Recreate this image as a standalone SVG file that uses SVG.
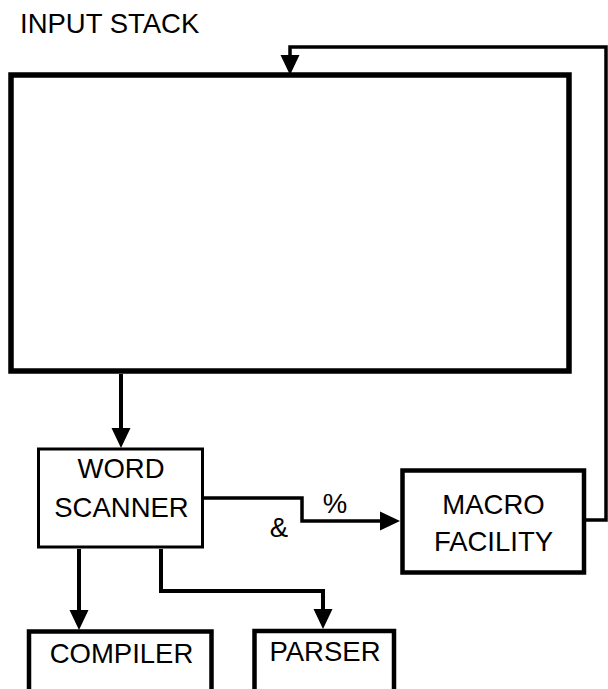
<svg xmlns="http://www.w3.org/2000/svg" width="608" height="689" viewBox="0 0 608 689">
  <style>
    text { font-family: "Liberation Sans", Arial, sans-serif; font-size: 27.5px; fill: #000; }
    .mid { text-anchor: middle; }
    .box { fill: #fff; stroke: #000; }
    .conn { fill: none; stroke: #000; stroke-linejoin: miter; }
  </style>
  <defs>
    <marker id="arrow" viewBox="0 0 20 20" refX="2" refY="10" markerWidth="20" markerHeight="20" markerUnits="userSpaceOnUse" orient="auto">
      <path d="M0,0.5 L20,10 L0,19.5 z" fill="#000"/>
    </marker>
  </defs>

  <rect width="608" height="689" fill="#fff"/>

  <g id="input-stack">
    <text x="20" y="33">INPUT STACK</text>
    <rect class="box" x="11" y="75" width="558" height="296" stroke-width="5.5"/>
  </g>

  <g id="word-scanner">
    <rect class="box" x="38.5" y="449" width="164" height="98" stroke-width="3"/>
    <text class="mid" x="121" y="478">WORD</text>
    <text class="mid" x="121.5" y="517">SCANNER</text>
  </g>

  <g id="macro-facility">
    <rect class="box" x="402.5" y="470.5" width="181.5" height="102" stroke-width="4.5"/>
    <text class="mid" x="493.5" y="514">MACRO</text>
    <text class="mid" x="493.5" y="551">FACILITY</text>
  </g>

  <g id="compiler">
    <rect class="box" x="29" y="631.5" width="182.5" height="80" stroke-width="4.5"/>
    <text class="mid" x="121.5" y="663">COMPILER</text>
  </g>

  <g id="parser">
    <rect class="box" x="254.5" y="631" width="139.5" height="80" stroke-width="4.5"/>
    <text class="mid" x="325" y="661">PARSER</text>
  </g>

  <g id="connectors">
    <polyline class="conn" points="586,520 606,520 606,47 290,47 290,57" stroke-width="3.5" marker-end="url(#arrow)"/>
    <polyline class="conn" points="121,374 121,430" stroke-width="4" marker-end="url(#arrow)"/>
    <polyline class="conn" points="203,498 302,498 302,521 382,521" stroke-width="3.5" marker-end="url(#arrow)"/>
    <polyline class="conn" points="79,549 79,612" stroke-width="4" marker-end="url(#arrow)"/>
    <polyline class="conn" points="161,549 161,591 323,591 323,611" stroke-width="4" marker-end="url(#arrow)"/>
    <text class="mid" x="335" y="513">%</text>
    <text class="mid" x="279" y="537">&amp;</text>
  </g>
</svg>
